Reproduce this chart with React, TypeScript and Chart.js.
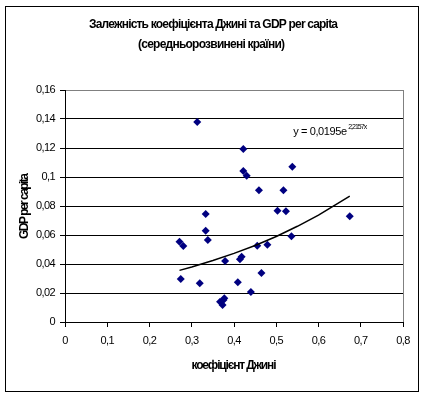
import React, { useEffect, useRef } from 'react';
import { Chart, registerables } from 'chart.js';

Chart.register(...registerables);

// Gini coefficient (x) and GDP per capita (y) for each country
const giniValues = [
  0.313, 0.333, 0.333, 0.338, 0.271, 0.280, 0.379, 0.414, 0.418, 0.455,
  0.479, 0.274, 0.319, 0.409, 0.440, 0.465, 0.367, 0.375, 0.373, 0.377,
  0.422, 0.422, 0.430, 0.459, 0.538, 0.517, 0.503, 0.523, 0.674, 0.536,
];
const gdpValues = [
  0.138, 0.0745, 0.063, 0.0566, 0.0554, 0.0524, 0.0421, 0.0432, 0.045, 0.0526,
  0.0533, 0.0297, 0.0267, 0.0274, 0.0207, 0.0338, 0.014, 0.0152, 0.0117, 0.0163,
  0.1193, 0.1041, 0.1009, 0.0908, 0.1071, 0.0908, 0.0768, 0.0763, 0.0729, 0.0591,
];

// Exponential trendline
const trendGini = [0.271, 0.3, 0.35, 0.4, 0.45, 0.5, 0.55, 0.6, 0.674];
const trendGdp = [0.0356, 0.0379, 0.0424, 0.0473, 0.0528, 0.059, 0.066, 0.0737, 0.0868];

const xTickLabels = ['0', '0,1', '0,2', '0,3', '0,4', '0,5', '0,6', '0,7', '0,8'];
const yTickLabels = ['0', '0,02', '0,04', '0,06', '0,08', '0,1', '0,12', '0,14', '0,16'];

const titleLines = ['Залежність коефіцієнта Джині та GDP per capita', '(середньорозвинені країни)'];
const xTitle = 'коефіцієнт Джині';
const yTitle = 'GDP per capita';
const equationMain = 'y = 0,0195e';
const equationSup = '2,2157x';

const FONT = '"Liberation Sans", Arial, sans-serif';

function drawFitted(
  ctx: CanvasRenderingContext2D,
  text: string,
  x: number,
  y: number,
  width: number,
  align: CanvasTextAlign,
) {
  ctx.save();
  const anyCtx = ctx as any;
  if ('letterSpacing' in anyCtx) anyCtx.letterSpacing = '0px';
  const natural = ctx.measureText(text).width;
  ctx.textAlign = align;
  if ('letterSpacing' in anyCtx && text.length > 1) {
    const ls = (width - natural) / (text.length - 1);
    anyCtx.letterSpacing = ls + 'px';
    let dx = 0;
    if (align === 'center') dx = ls / 2;
    ctx.fillText(text, x + dx, y);
  } else {
    ctx.translate(x, y);
    ctx.scale(width / natural, 1);
    ctx.fillText(text, 0, 0);
  }
  ctx.restore();
}

const decorPlugin = {
  id: 'decor',
  beforeDraw(chart: any) {
    const ctx = chart.ctx as any;
    if ('letterSpacing' in ctx) ctx.letterSpacing = '-0.6px';
  },
  afterDraw(chart: any) {
    const ctx: CanvasRenderingContext2D = chart.ctx;
    const area = chart.chartArea;
    const xs = chart.scales.x;
    const ys = chart.scales.y;
    ctx.save();
    // outer frame
    ctx.strokeStyle = '#000';
    ctx.lineWidth = 1;
    ctx.strokeRect(5.5, 6.5, 413, 385);
    // right border of plot area
    ctx.strokeStyle = '#808080';
    ctx.beginPath();
    ctx.moveTo(Math.round(area.right) + 0.5, area.top);
    ctx.lineTo(Math.round(area.right) + 0.5, area.bottom);
    ctx.stroke();

    ctx.fillStyle = '#000';
    ctx.textBaseline = 'middle';
    // title
    ctx.font = 'bold 12px ' + FONT;
    drawFitted(ctx, titleLines[0], 213.5, 25, 249, 'center');
    drawFitted(ctx, titleLines[1], 211.5, 44.5, 147, 'center');
    // x-axis title
    drawFitted(ctx, xTitle, (area.left + area.right) / 2, 366, 85, 'center');
    // y-axis title
    ctx.save();
    ctx.translate(25, (area.top + area.bottom) / 2);
    ctx.rotate(-Math.PI / 2);
    drawFitted(ctx, yTitle, 0, 0, 66, 'center');
    ctx.restore();

    // trendline equation
    const ex = xs.getPixelForValue(0.54);
    const ey = ys.getPixelForValue(0.131);
    ctx.font = '11px ' + FONT;
    drawFitted(ctx, equationMain, ex, ey, 54, 'left');
    ctx.font = '7px ' + FONT;
    drawFitted(ctx, equationSup, ex + 55, ey - 5, 19, 'left');
    ctx.restore();
  },
};

export default function App() {
  const canvasRef = useRef<HTMLCanvasElement | null>(null);

  useEffect(() => {
    const canvas = canvasRef.current;
    if (!canvas) return;
    const points = giniValues.map((g, i) => ({ x: g, y: gdpValues[i] }));
    const trend = trendGini.map((g, i) => ({ x: g, y: trendGdp[i] }));

    const chart = new Chart(canvas, {
      type: 'scatter',
      data: {
        datasets: [
          {
            label: 'countries',
            data: points,
            pointStyle: 'rectRot',
            pointRadius: 4,
            pointHoverRadius: 4,
            backgroundColor: '#000080',
            borderColor: '#000080',
            borderWidth: 0,
            order: 1,
          },
          {
            type: 'line',
            label: 'trend',
            data: trend,
            borderColor: '#000',
            borderWidth: 1.5,
            pointRadius: 0,
            tension: 0,
            fill: false,
            order: 0,
          } as any,
        ],
      },
      options: {
        responsive: false,
        animation: false,
        devicePixelRatio: 1,
        layout: { padding: { top: 90, left: 0, right: 21, bottom: 16 } },
        plugins: {
          legend: { display: false },
          title: { display: false },
          tooltip: { enabled: false },
        },
        scales: {
          x: {
            type: 'linear',
            min: 0,
            max: 0.8,
            ticks: {
              stepSize: 0.1,
              padding: 7,
              color: '#000',
              font: { size: 11, family: FONT },
              maxRotation: 0,
              callback: (_v: any, i: number) => xTickLabels[i],
            },
            grid: {
              drawOnChartArea: false,
              drawTicks: true,
              tickLength: 5,
              tickColor: '#000',
              color: '#000',
            },
            border: { color: '#000', width: 1 },
            afterFit: (scale: any) => {
              scale.height = 60;
            },
          },
          y: {
            type: 'linear',
            min: 0,
            max: 0.16,
            ticks: {
              stepSize: 0.02,
              padding: 5,
              color: '#000',
              font: { size: 11, family: FONT },
              callback: (_v: any, i: number) => yTickLabels[i],
            },
            grid: {
              drawTicks: true,
              tickLength: 5,
              tickColor: '#000',
              color: (c: any) => (c.tick && c.tick.value >= 0.159 ? '#808080' : '#000'),
            },
            border: { color: '#000', width: 1 },
            afterFit: (scale: any) => {
              scale.width = 65;
            },
          },
        },
      },
      plugins: [decorPlugin],
    });
    return () => chart.destroy();
  }, []);

  return (
    <div style={{ position: 'absolute', left: 0, top: 0, width: 424, height: 398, background: '#fff' }}>
      <canvas ref={canvasRef} width={424} height={398} style={{ display: 'block' }} />
    </div>
  );
}
